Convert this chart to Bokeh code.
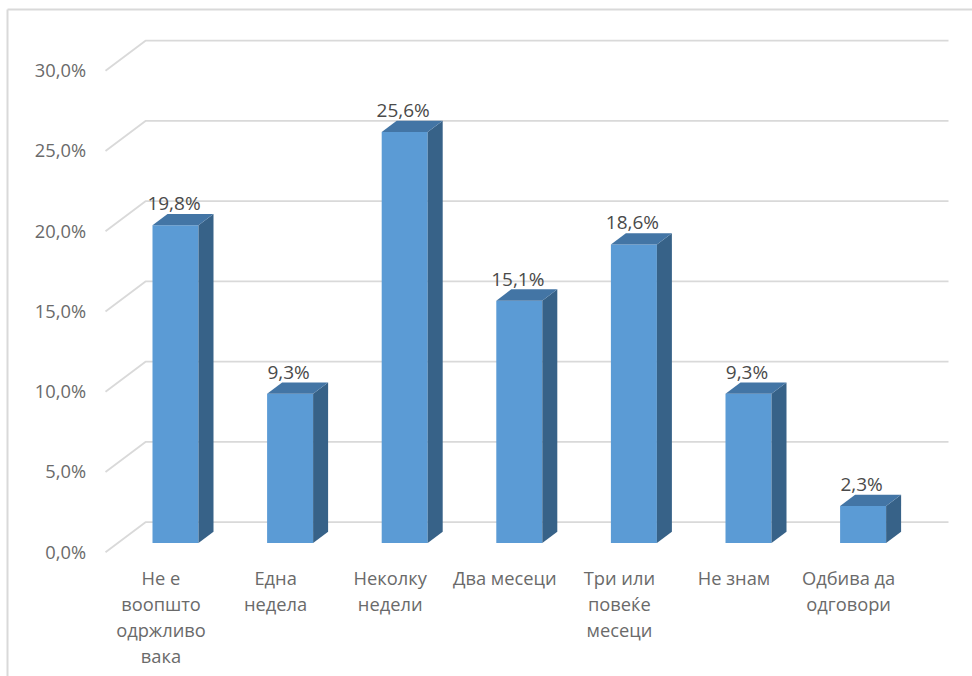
from bokeh.plotting import figure
from bokeh.models import Range1d, ColumnDataSource
from bokeh.core.properties import value
from bokeh.embed import file_html
from bokeh.resources import INLINE

categories = ["Не е\nвоопшто\nодржливо\nвака", "Една\nнедела", "Неколку\nнедели", "Два месеци",
              "Три или\nповеќе\nмесеци", "Не знам", "Одбива да\nодговори"]
values = [19.8, 9.3, 25.6, 15.1, 18.6, 9.3, 2.3]
data_labels = ["19,8%", "9,3%", "25,6%", "15,1%", "18,6%", "9,3%", "2,3%"]
ticks = [0, 5, 10, 15, 20, 25, 30]
tick_labels = ["0,0%", "5,0%", "10,0%", "15,0%", "20,0%", "25,0%", "30,0%"]

FONT = "Open Sans"
GRID, FRONT, TOP, SIDE = "#d9d9d9", "#5b9bd5", "#4375a5", "#376288"
TICK_TEXT, LABEL_TEXT = "#6a6a6a", "#4a4a4a"

# screen geometry of the picture: figure's corner, one category, one percent
PX0, PY0, W, H = 0, 0, 972, 676
UX, UY = 114.6, 16.05
X_ZERO, Y_ZERO = 175, 542.5     # bar 0 centre, front base of the bars
xd = lambda px: (px - X_ZERO) / UX
yd = lambda py: (Y_ZERO - py) / UY

p = figure(width=W, height=H, output_backend="svg", toolbar_location=None,
           x_range=Range1d(xd(PX0), xd(PX0 + W)), y_range=Range1d(yd(PY0 + H), yd(PY0)),
           min_border=0, min_border_left=0, min_border_right=0, min_border_top=0, min_border_bottom=0,
           outline_line_color=None, x_axis_location=None, y_axis_location=None)
p.xgrid.visible = False
p.ygrid.visible = False

# picture frame
p.line([xd(7), xd(7)], [yd(PY0 + H), yd(9)], line_color=GRID, line_width=2)
p.line([xd(7), xd(PX0 + W)], [yd(9), yd(9)], line_color=GRID, line_width=2)

# wall and floor grid lines
DROP = (551.7 - 521.7) / UY
gx0, gx1, gx2 = xd(105), xd(145), xd(948)
p.multi_line([[gx0, gx1, gx2] for _ in ticks],
             [[t + yd(521.7) - DROP, t + yd(521.7), t + yd(521.7)] for t in ticks],
             line_color=GRID, line_width=1.8)

# tick labels
p.text([gx0 - 19.5 / UX] * len(ticks), [t + yd(550.7) for t in ticks], text=tick_labels,
       text_font=value(FONT), text_font_size="18.3px", text_color=TICK_TEXT,
       text_align="right", text_baseline="middle")

# bars
half = 23 / UX
dx, dy = 15 / UX, 11.3 / UY
xs = list(range(len(values)))
p.quad(left=[x - half for x in xs], right=[x + half for x in xs], bottom=0, top=values,
       fill_color=FRONT, line_color=None)
p.patches([[x + half, x + half + dx, x + half + dx, x + half] for x in xs],
          [[0, dy, v + dy, v] for v in values], fill_color=SIDE, line_color=None)
p.patches([[x - half, x - half + dx, x + half + dx, x + half] for x in xs],
          [[v, v + dy, v + dy, v] for v in values], fill_color=TOP, line_color=None)

# data labels
p.text(xs, values, text=data_labels, x_offset=-1.5, y_offset=-22, text_font=value(FONT), text_font_size="19px",
       text_color=LABEL_TEXT, text_align="center", text_baseline="middle")

# category labels
src = ColumnDataSource(dict(x=xs, y=[yd(564)] * len(xs), t=categories))
p.text("x", "y", text="t", source=src, x_offset=-14.5, text_font=value(FONT), text_font_size="18.3px",
       text_color=TICK_TEXT, text_align="center", text_baseline="top", text_line_height=1.05)

open("out.html", "w").write(file_html(p, INLINE))
